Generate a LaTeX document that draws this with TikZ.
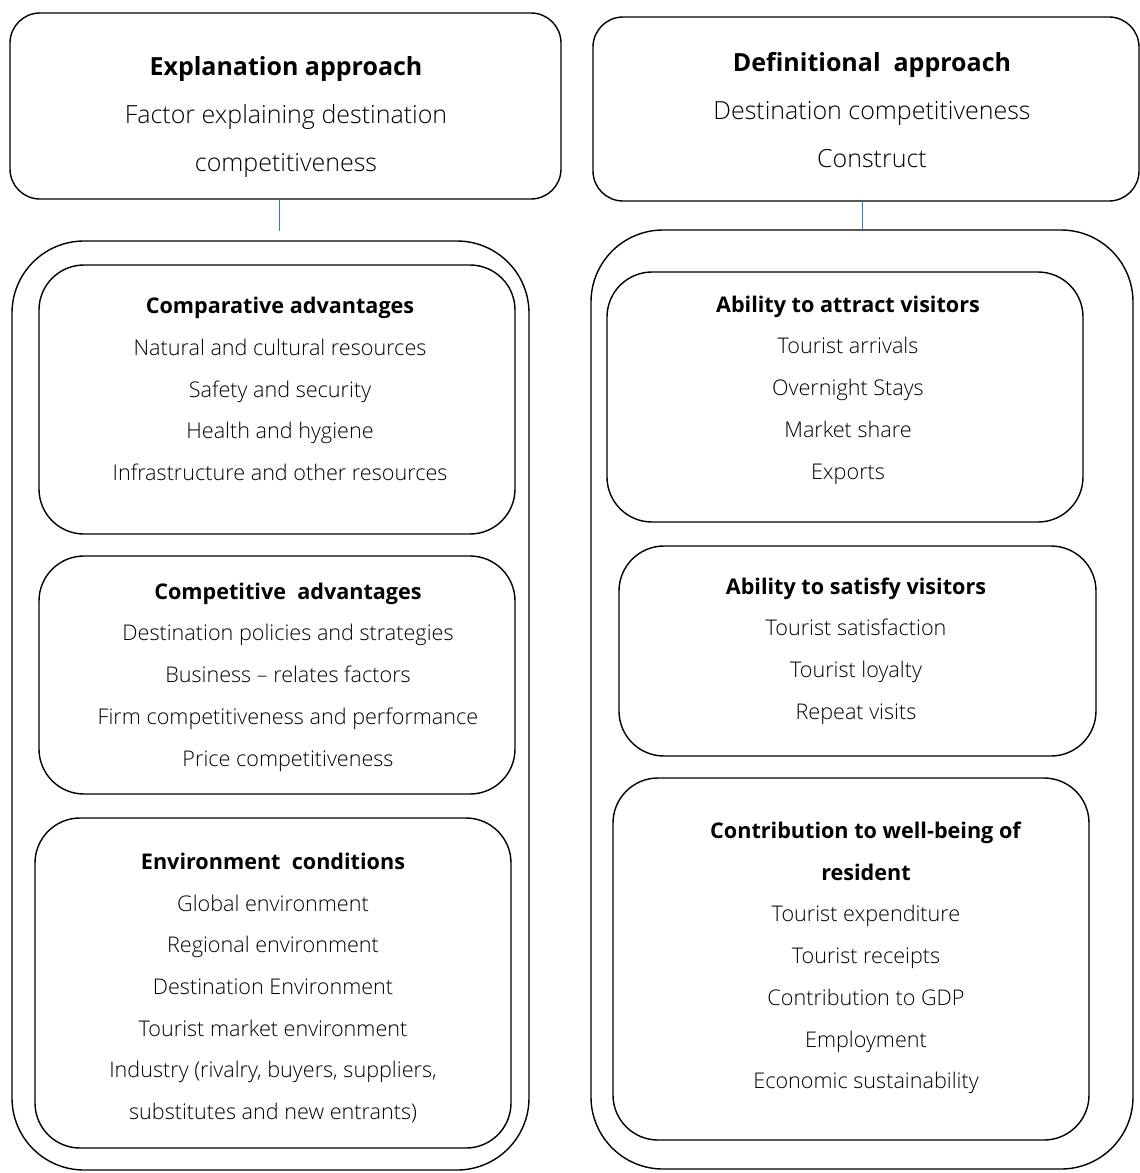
\documentclass[tikz,border=0pt]{standalone}
\usepackage{fontspec}
\setmainfont{Open Sans}[UprightFont={Open Sans Light}, BoldFont={Open Sans Bold}]
\usepackage{xcolor}
\usetikzlibrary{positioning}
\definecolor{linkblue}{HTML}{4472C4}

\begin{document}
\begin{tikzpicture}[
  x=1pt, y=-1pt,
  box/.style={draw, line width=1.4pt, rounded corners=#1, inner sep=0pt},
  box/.default=45pt,
  head/.style={align=center, font=\fontsize{25}{48}\selectfont},
  txt/.style={align=center, font=\fontsize{21.6}{41.7}\selectfont},
  link/.style={draw=linkblue, line width=1pt}
]
  \useasboundingbox (0,0) rectangle (1140,1173);
  % top boxes
  \node[box=30pt, minimum width=551pt, minimum height=186pt] (lt) at (285.5,106) {};
  \node[box=30pt, minimum width=546pt, minimum height=184pt] (rt) at (866,109) {};
  \node[head] at (286,117) {\textbf{Explanation approach}\\Factor explaining destination\\competitiveness};
  \node[head] at (872,110) {\textbf{Definitional\ \ approach}\\Destination competitiveness\\Construct};
  % outer frames
  \node[box=72pt, minimum width=517pt, minimum height=929pt] (lo) at (270.5,705.5) {};
  \node[box=72pt, minimum width=542pt, minimum height=939pt] (ro) at (862,699.5) {};
  \coordinate (lend) at (279,231);
  \draw[link] (lend |- lt.south) -- (lend);
  \draw[link] (862,0 |- rt.south) -- (862,0 |- ro.north);
  % left column
  \node[box, minimum width=476pt, minimum height=269pt] (cmp) at (277,399.5) {};
  \node[box, minimum width=476pt, minimum height=238pt] (cpt) at (277,675) {};
  \node[box, minimum width=476pt, minimum height=330pt] (env) at (273,983) {};
  \node[txt] at (280,389) {\textbf{Comparative advantages}\\Natural and cultural resources\\Safety and security\\Health and hygiene\\Infrastructure and other resources};
  \node[txt] at (288,677) {\textbf{Competitive\ \ advantages}\\Destination policies and strategies\\Business -- relates factors\\Firm competitiveness and performance\\Price competitiveness};
  \node[txt] at (273,988) {\textbf{Environment\ \ conditions}\\Global environment\\Regional environment\\Destination Environment\\Tourist market environment\\Industry (rivalry, buyers, suppliers,\\substitutes and new entrants)};
  % right column
  \node[box, minimum width=476pt, minimum height=250pt] (att) at (845,397) {};
  \node[box, minimum width=477pt, minimum height=210pt] (sat) at (857.5,651) {};
  \node[box, minimum width=476pt, minimum height=362pt] (wel) at (851,959) {};
  \node[txt] at (848,390) {\textbf{Ability to attract visitors}\\Tourist arrivals\\Overnight Stays\\Market share\\Exports};
  \node[txt] at (856,651) {\textbf{Ability to satisfy visitors}\\Tourist satisfaction\\Tourist loyalty\\Repeat visits};
  \node[txt] at (866,958) {\textbf{Contribution to well-being of}\\\textbf{resident}\\Tourist expenditure\\Tourist receipts\\Contribution to GDP\\Employment\\Economic sustainability};
\end{tikzpicture}
\end{document}
